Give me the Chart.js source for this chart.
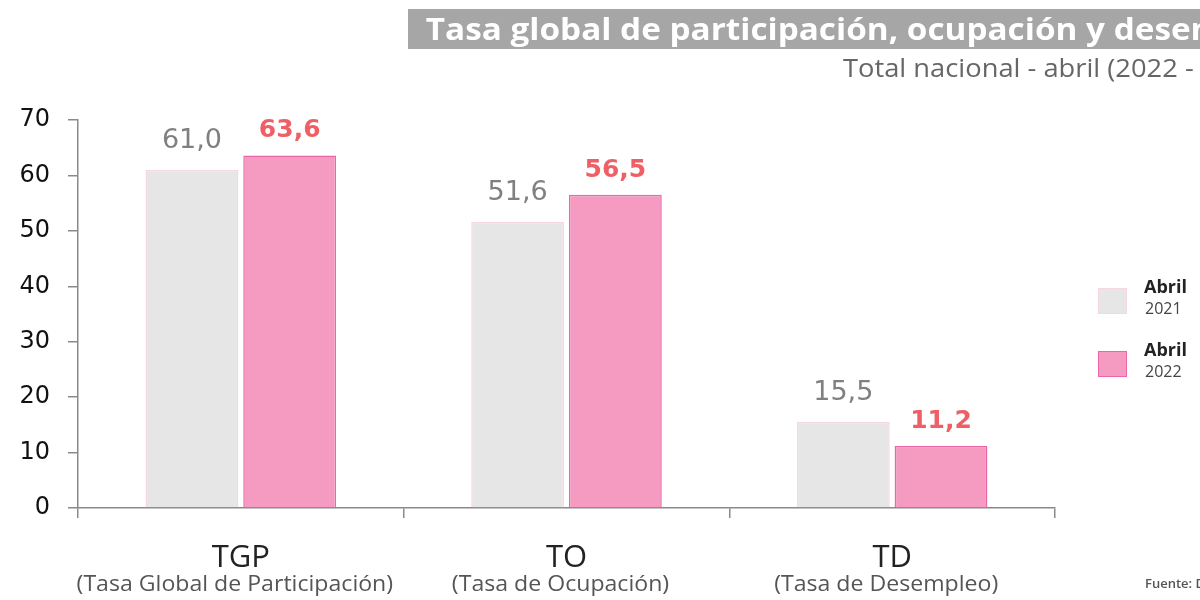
<!DOCTYPE html>
<html>
<head>
<meta charset="utf-8">
<script src="https://cdn.jsdelivr.net/npm/chart.js@4.4.1/dist/chart.umd.min.js"></script>
<style>
  html, body { margin: 0; padding: 0; background: #fff; }
  body { width: 1200px; height: 600px; overflow: hidden; position: relative; font-family: "Open Sans", sans-serif; }
  #wrap { position: absolute; left: 0; top: 0; width: 1200px; height: 600px; }
  .title {
    position: absolute; left: 408px; top: 9px; width: 900px; height: 40px;
    background: #a6a6a6; color: #fff; font-weight: 700; font-size: 30px;
    line-height: 40px; white-space: nowrap;
  }
  .title span { display: inline-block; transform: scaleX(1.11); transform-origin: left center; padding-left: 16px; }
  .subtitle {
    position: absolute; left: 843px; top: 49px; font-size: 26px; color: #666;
    white-space: nowrap; transform: scaleX(1.05); transform-origin: left center;
  }
  .leg { position: absolute; left: 1098px; width: 200px; }
  .leg .sw { position: absolute; left: 0; top: 2px; width: 29px; height: 26px; box-sizing: border-box; }
  .leg .t1 { position: absolute; left: 46px; top: -12px; font-size: 18px; font-weight: 700; color: #222; }
  .leg .t2 { position: absolute; left: 47px; top: 11px; font-size: 16px; color: #444; }
  .fuente { position: absolute; left: 1145px; top: 574px; font-size: 13px; font-weight: 600; color: #555; white-space: nowrap; }
</style>
</head>
<body>
<div id="wrap"><canvas id="chart" width="1200" height="600"></canvas></div>
<div class="title"><span>Tasa global de participación, ocupación y desempleo</span></div>
<div class="subtitle">Total nacional - abril (2022 - 2021)</div>
<div id="legend"></div>
<div class="fuente">Fuente: DANE, GEIH</div>
<script>
// data
const categories = ['TGP', 'TO', 'TD'];
const categoryNames = ['(Tasa Global de Participación)', '(Tasa de Ocupación)', '(Tasa de Desempleo)'];
const seriesNames = ['Abril 2021', 'Abril 2022'];
const abril2021 = [61.0, 51.6, 15.5];
const abril2022 = [63.6, 56.5, 11.2];
const yTicks = [0, 10, 20, 30, 40, 50, 60, 70];

const fills = ['#e6e6e6', '#f59bc2'];
const borders = ['#f6d6e2', '#ec66a8'];
const labelColors = ['#808080', '#ef5f66'];
const labelFonts = ['27px "DejaVu Sans", sans-serif', 'bold 25px "DejaVu Sans", sans-serif'];
const labelGap = [22, 18];

// legend
const legendEl = document.getElementById('legend');
seriesNames.forEach((name, i) => {
  const parts = name.split(' ');
  const d = document.createElement('div');
  d.className = 'leg';
  d.style.top = (286 + i * 63) + 'px';
  d.innerHTML = '<div class="sw" style="background:' + fills[i] + ';border:1px solid ' + borders[i] + '"></div>' +
    '<div class="t1">' + parts[0] + '</div><div class="t2">' + parts[1] + '</div>';
  legendEl.appendChild(d);
});

function stretchedText(ctx, text, x, y, sx) {
  ctx.save();
  ctx.translate(x, y);
  ctx.scale(sx, 1);
  ctx.fillText(text, 0, 0);
  ctx.restore();
}

const valueLabels = {
  id: 'valueLabels',
  afterDatasetsDraw(chart) {
    const ctx = chart.ctx;
    ctx.save();
    ctx.textAlign = 'center';
    ctx.textBaseline = 'alphabetic';
    chart.data.datasets.forEach((ds, i) => {
      const meta = chart.getDatasetMeta(i);
      ctx.fillStyle = labelColors[i];
      ctx.font = labelFonts[i];
      meta.data.forEach((bar, j) => {
        ctx.fillText(ds.data[j].toFixed(1).replace('.', ','), bar.x, bar.y - labelGap[i]);
      });
    });
    ctx.restore();
  }
};

const catLabels = {
  id: 'catLabels',
  afterDraw(chart) {
    const ctx = chart.ctx;
    const x = chart.scales.x;
    ctx.save();
    ctx.textAlign = 'center';
    ctx.textBaseline = 'alphabetic';
    categories.forEach((c, i) => {
      const px = x.getPixelForValue(i);
      ctx.fillStyle = '#222';
      ctx.font = '31px "Open Sans", sans-serif';
      stretchedText(ctx, c, px, 567, 1.0);
      ctx.fillStyle = '#555';
      ctx.font = '21px "Open Sans", sans-serif';
      stretchedText(ctx, categoryNames[i], px - 6, 591, 1.1);
    });
    ctx.restore();
  }
};

new Chart(document.getElementById('chart'), {
  type: 'bar',
  data: {
    labels: categories,
    datasets: [
      { label: seriesNames[0], data: abril2021, backgroundColor: fills[0], borderColor: borders[0], borderWidth: 1.5 },
      { label: seriesNames[1], data: abril2022, backgroundColor: fills[1], borderColor: borders[1], borderWidth: 1.5 }
    ]
  },
  options: {
    responsive: false,
    animation: false,
    categoryPercentage: 0.6,
    barPercentage: 0.95,
    layout: { padding: { top: 120, right: 145, left: 0, bottom: 0 } },
    plugins: { legend: { display: false }, tooltip: { enabled: false } },
    scales: {
      x: {
        grid: { display: true, drawOnChartArea: false, offset: true, tickLength: 10, color: '#8a8a8a', lineWidth: 1.5 },
        border: { color: '#8a8a8a', width: 1.5 },
        ticks: { display: false },
        afterFit(s) { s.height = 92; }
      },
      y: {
        min: 0,
        max: 70,
        afterBuildTicks(s) { s.ticks = yTicks.map(v => ({ value: v })); },
        grid: { display: true, drawOnChartArea: false, tickLength: 10, color: '#8a8a8a', lineWidth: 1.5 },
        border: { color: '#8a8a8a', width: 1.5 },
        ticks: { color: '#111', padding: 18, font: { family: '"DejaVu Sans", sans-serif', size: 24 } },
        afterFit(s) { s.width = 78; }
      }
    }
  },
  plugins: [valueLabels, catLabels]
});
</script>
</body>
</html>
